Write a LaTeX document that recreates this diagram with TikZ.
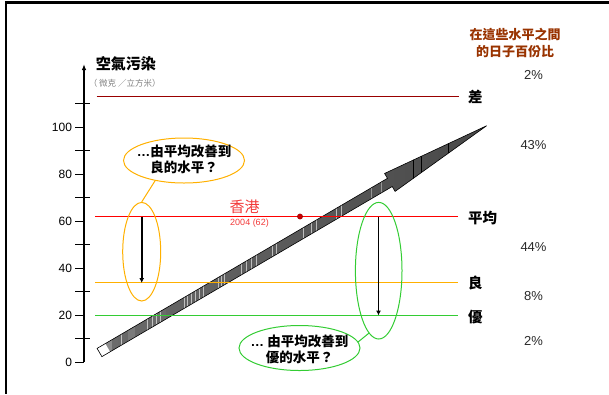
\documentclass[tikz,border=0pt]{standalone}
\usepackage{fontspec}
\setmainfont{Liberation Sans}
\newfontfamily\lsans{Liberation Sans}
\newfontfamily\cjk{Noto Sans CJK TC}
\usetikzlibrary{arrows.meta,shapes.geometric}

\definecolor{poorred}{HTML}{990000}
\definecolor{avgred}{HTML}{FF0000}
\definecolor{goodorange}{HTML}{FFB000}
\definecolor{bestgreen}{HTML}{33CC33}
\definecolor{headbrown}{HTML}{993300}
\definecolor{hkred}{HTML}{F23A3A}
\definecolor{pctgray}{HTML}{2A2A2A}
\definecolor{unitgray}{HTML}{808080}

% outline of the rising trend arrow, in its own frame (u along, v across)
\def\trend{(0,-4.75) -- (336.5,-4.75) -- (336.5,-10.4) -- (448.7,0)
  -- (336.5,10.4) -- (336.5,4.75) -- (0,4.75) -- cycle}

\begin{document}
\begin{tikzpicture}[x=1pt,y=-1pt,
  trendtf/.style={shift={(99.5,352.5)},rotate=30.36},
  lvlline/.style={line width=1},
  lvltext/.style={font=\cjk\bfseries\fontsize{14.5}{16}\selectfont,anchor=west,inner sep=0},
  pct/.style={font=\fontsize{13}{15}\selectfont,text=pctgray,inner sep=0},
  ticklabel/.style={font=\fontsize{12}{14}\selectfont,anchor=east,inner sep=0},
  bubble/.style={ellipse,line width=1,inner sep=0,minimum width=121,minimum height=45},
  bubbletext/.style={align=center,inner sep=0,font=\cjk\bfseries\fontsize{13.5}{15.5}\selectfont},
  spanellipse/.style={ellipse,line width=1,inner sep=0},
  drop/.style={line width=1.8,-{Latex[length=5,width=5]}},
  streak/.style={white,line width=0.7,opacity=0.6},
]
\useasboundingbox (0,0) rectangle (609,394);

% frame
\draw[line width=2.5] (4.8,2.5) -- (609,2.5);
\draw[line width=2] (6,1.5) -- (6,394);

% rising trend arrow: banded grey body
\begin{scope}
  \clip[trendtf] \trend;
  \shade[left color=black!58,right color=black!72] (95,110) rectangle (495,362);
  \fill[black!45] (106,300) rectangle (112,362);
  \fill[black!58] (112,300) rectangle (118,362);
  \fill[black!52] (128,300) rectangle (135,362);
  \fill[black!58] (150,280) rectangle (166,362);
  \foreach \sx in {121,147,152,156,160,184,187,191,195,199,203,218,221,224,241,246,251,256,272,276,303,311,316,336,341}
    \draw[streak] (\sx,110) -- (\sx,362);
  \foreach \sx in {371,381}
    \draw[white,line width=0.6,opacity=0.4] (\sx,110) -- (\sx,362);
  \foreach \sx in {413.3,421.7,448.3}
    \draw[black,line width=0.6] (\sx,110) -- (\sx,362);
\end{scope}
\fill[trendtf,white] (0,-4.75) rectangle (9.5,4.75);
\draw[trendtf,line width=0.6,line join=miter] \trend;

% vertical axis with ticks
\coordinate (ax0) at (84,362);
\coordinate (axtop) at (84,64);
\draw[line width=1.4,-{Latex[length=6,width=4.5]}] (ax0) -- (axtop);
\foreach \v in {0,20,...,100}{
  \coordinate (tl\v) at (75,{362-2.35*\v});
  \coordinate (tr\v) at (84,{362-2.35*\v});
  \draw[line width=1] (tl\v) -- (tr\v);
  \node[ticklabel] (lab\v) at ([xshift=-2.8]tl\v) {\v};
}
\foreach \v in {10,30,...,110}{
  \coordinate (ml\v) at (75,{362-2.35*\v});
  \coordinate (mr\v) at (90,{362-2.35*\v});
  \draw[line width=1] (ml\v) -- (mr\v);
}

% axis title
\node[font=\cjk\bfseries\fontsize{15}{17}\selectfont,inner sep=0] (title) at (125.8,63.3) {空氣污染};
\node[font=\cjk\fontsize{8.5}{10}\selectfont,text=unitgray,inner sep=0] (units) at (124.7,83.3)
  {（ 微克 ／立方米）};

% header of the percentage column
\node[align=center,text=headbrown,inner sep=0,font=\cjk\bfseries\fontsize{13}{17.4}\selectfont] (hdr) at (515,43)
  {在這些水平之間\\的日子百份比};

% level lines and their names
\coordinate (poorL) at (96.5,96);   \coordinate (poorR) at (459,96);
\coordinate (avgL)  at (95,216.5);  \coordinate (avgR)  at (458,216.5);
\coordinate (goodL) at (95,282.5);  \coordinate (goodR) at (458,282.5);
\coordinate (bestL) at (95,315);    \coordinate (bestR) at (458,315);
\draw[lvlline,poorred]    (poorL) -- (poorR);
\draw[lvlline,avgred]     (avgL)  -- (avgR);
\draw[lvlline,goodorange] (goodL) -- (goodR);
\draw[lvlline,bestgreen]  (bestL) -- (bestR);
\node[lvltext] (npoor) at (468,97)    {差};
\node[lvltext] (navg)  at (468,217.5) {平均};
\node[lvltext] (ngood) at (468,283)   {良};
\node[lvltext] (nbest) at (468,317.5) {優};

% share of days between the levels
\node[pct] (p1) at (533.5,74.5)  {2\%};
\node[pct] (p2) at (533.5,145.5) {43\%};
\node[pct] (p3) at (533.5,247.5) {44\%};
\node[pct] (p4) at (533.5,296)   {8\%};
\node[pct] (p5) at (533.5,341)   {2\%};

% Hong Kong 2004 reading
\fill[red!80!black,draw=poorred,line width=0.5] (300,216.5) circle (2.6);
\node[font=\cjk\fontsize{15}{17}\selectfont,text=hkred,inner sep=0] (hk) at (244.7,206.7) {香港};
\node[font=\fontsize{9}{10}\selectfont,text=hkred,inner sep=0] (hkyear) at (249.5,223.3) {2004 (62)};

% average -> good
\node[spanellipse,draw=goodorange,minimum width=38,minimum height=98.6] (egood) at (141.7,251.7) {};
\coordinate (dgA) at (141.7,216.5);
\coordinate (dgB) at (141.7,283);
\draw[drop] (dgA) -- (dgB);
\node[bubble,draw=goodorange] (qgood) at (184,160.5) {};
\node[bubbletext] (qgoodtxt) at (184,159.2) {{\lsans\bfseries …}由平均改善到\\良的水平？};
\draw[goodorange,line width=1] (qgood.215) -- (egood.north);

% average -> best
\node[spanellipse,draw=bestgreen,minimum width=46.6,minimum height=136.6] (ebest) at (378.7,270.7) {};
\coordinate (dbA) at (378.5,216.5);
\coordinate (dbB) at (378.5,315.5);
\draw[drop] (dbA) -- (dbB);
\node[bubble,draw=bestgreen] (qbest) at (299.5,348) {};
\node[bubbletext] (qbesttxt) at (299.5,349.5) {{\lsans\bfseries …} 由平均改善到\\優的水平？};
\draw[bestgreen,line width=1] (qbest.6) -- (ebest.261);
\end{tikzpicture}
\end{document}
